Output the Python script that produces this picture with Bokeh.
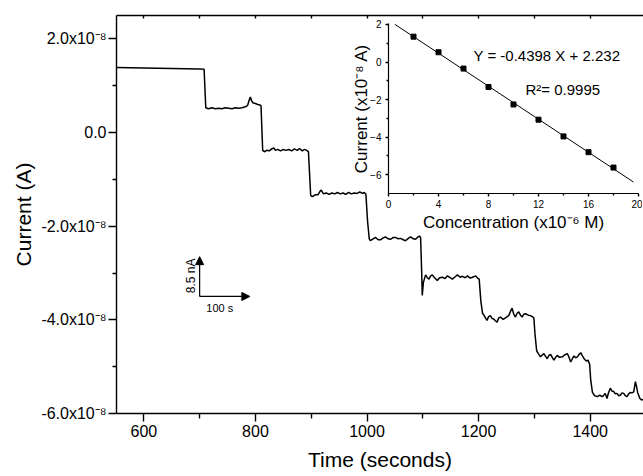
from math import pi
from bokeh.plotting import figure
from bokeh.models import Range1d, FixedTicker, LinearAxis, Label, Arrow, NormalHead
from bokeh.embed import file_html
from bokeh.resources import INLINE

# ---------------- data ----------------
time_s = [551, 600, 650, 700, 708,
          711, 716, 722, 728, 734, 740, 746, 752, 758, 764, 770, 776, 782, 786, 789, 791, 793, 796, 800, 804, 808, 810,
          813, 816, 820, 825, 829, 833, 836, 840, 845, 850, 855, 860, 865, 870, 875, 879, 884, 888, 892, 895,
          899, 902, 907, 912, 916, 918, 922, 927, 932, 937, 942, 947, 952, 957, 962, 967, 972, 977, 982, 987, 992, 995, 998,
          1001, 1004, 1006, 1011, 1015, 1020, 1024, 1029, 1033, 1038, 1042, 1047, 1051, 1056, 1060, 1065, 1069, 1074, 1078,
          1083, 1087, 1091, 1094, 1096,
          1098, 1099, 1101, 1105, 1108, 1111, 1114, 1117, 1121, 1126, 1130, 1135, 1140, 1144, 1149, 1153, 1158, 1162, 1167,
          1171, 1176, 1180, 1185, 1189, 1195, 1198, 1201,
          1204, 1207, 1209, 1212, 1215, 1218, 1221, 1224, 1227, 1230, 1233, 1236, 1239, 1244, 1248, 1251, 1254, 1257, 1260,
          1263, 1266, 1269, 1272, 1275, 1278, 1281, 1284, 1289, 1293, 1296, 1299,
          1301, 1304, 1307, 1311, 1314, 1317, 1320, 1323, 1326, 1329, 1332, 1335, 1338, 1341, 1345, 1350, 1354, 1359, 1362,
          1365, 1368, 1371, 1374, 1377, 1380, 1383, 1386, 1389, 1393, 1396,
          1399, 1401, 1404, 1408, 1413, 1417, 1422, 1427, 1430, 1433, 1436, 1439, 1442, 1445, 1448, 1451, 1454, 1457, 1460,
          1463, 1466, 1469, 1472, 1475, 1478, 1481, 1483, 1485, 1489, 1492, 1495]
# current in units of 1e-8 A
current_e8 = [1.39, 1.38, 1.37, 1.36, 1.35,
              0.53, 0.51, 0.53, 0.51, 0.52, 0.51, 0.53, 0.52, 0.51, 0.53, 0.52, 0.53, 0.55, 0.58, 0.70, 0.76, 0.68, 0.63, 0.62, 0.60, 0.59, 0.57,
              -0.38, -0.41, -0.38, -0.39, -0.35, -0.33, -0.38, -0.36, -0.39, -0.36, -0.38, -0.36, -0.39, -0.35, -0.38, -0.34, -0.39, -0.36, -0.38, -0.41,
              -1.34, -1.37, -1.33, -1.33, -1.25, -1.23, -1.31, -1.29, -1.32, -1.29, -1.31, -1.28, -1.31, -1.29, -1.32, -1.28, -1.31, -1.29, -1.30, -1.27, -1.30, -1.28, -1.32,
              -1.90, -2.27, -2.31, -2.27, -2.24, -2.29, -2.29, -2.25, -2.23, -2.27, -2.28, -2.24, -2.24, -2.27, -2.26, -2.29, -2.31, -2.26, -2.23,
              -2.27, -2.28, -2.23, -2.21, -2.24,
              -3.00, -3.48, -3.20, -3.04, -3.10, -3.13, -3.06, -3.04, -3.10, -3.16, -3.10, -3.09, -3.12, -3.06, -3.10, -3.13, -3.08, -3.04, -3.09,
              -3.07, -3.10, -3.06, -3.11, -3.09, -3.06, -3.11, -3.13,
              -3.60, -3.86, -3.89, -3.95, -4.01, -3.93, -3.91, -3.97, -3.98, -4.02, -4.05, -3.96, -3.94, -3.99, -3.96, -3.93, -3.91, -3.82, -3.75,
              -3.88, -3.94, -3.86, -3.83, -3.90, -3.94, -3.88, -3.87, -3.90, -3.91, -3.93, -3.96,
              -4.30, -4.66, -4.72, -4.79, -4.75, -4.72, -4.78, -4.83, -4.76, -4.74, -4.80, -4.86, -4.80, -4.76, -4.80, -4.79, -4.75, -4.72, -4.80,
              -4.90, -4.83, -4.77, -4.81, -4.79, -4.74, -4.70, -4.77, -4.83, -4.88, -4.86,
              -4.95, -5.30, -5.55, -5.62, -5.64, -5.61, -5.64, -5.57, -5.68, -5.55, -5.46, -5.52, -5.53, -5.58, -5.57, -5.62, -5.61, -5.56, -5.57,
              -5.62, -5.64, -5.58, -5.55, -5.56, -5.54, -5.32, -5.42, -5.55, -5.68, -5.71, -5.70]

x_major = [600, 800, 1000, 1200, 1400]
x_minor = [700, 900, 1100, 1300]
x_top = [600, 700, 800, 900, 1000, 1100, 1200, 1300, 1400]
y_major = [2, 0, -2, -4, -6]
y_minor = [1, -1, -3, -5]
y_labels = ["2.0x10\u207b\u2078", "0.0", "-2.0x10\u207b\u2078", "-4.0x10\u207b\u2078", "-6.0x10\u207b\u2078"]

# inset: calibration
conc = [2, 4, 6, 8, 10, 12, 14, 16, 18]
inset_current = [1.35, 0.52, -0.35, -1.33, -2.26, -3.07, -3.96, -4.80, -5.62]
fit_x = [0.5, 19.6]
fit_y = [2.01, -6.39]
ins_x_major = [0, 4, 8, 12, 16, 20]
ins_x_minor = [2, 6, 10, 14, 18]
ins_y_major = [2, 0, -2, -4, -6]
ins_y_minor = [1, -1, -3, -5]

# scale bar (data coords)
bar_x0, bar_y0 = 700, -3.5
bar_dx, bar_dy = 90, 0.85

FONT = "Liberation Sans"

# ---------------- main figure ----------------
p = figure(width=643, height=476, x_range=Range1d(551, 1495.5), y_range=Range1d(-6.0, 2.5),
           output_backend="svg", toolbar_location=None,
           min_border_left=116, min_border_right=0, min_border_top=15, min_border_bottom=63)
p.outline_line_color = None
p.grid.visible = False
p.line(time_s, current_e8, line_color="black", line_width=1.5)


def style_axis(ax, font_size):
    ax.axis_line_width = 1.4
    ax.major_tick_line_width = 1.4
    ax.minor_tick_line_width = 1.4
    ax.axis_line_color = "black"
    ax.major_tick_line_color = "black"
    ax.minor_tick_line_color = "black"
    ax.major_label_text_font = FONT
    ax.major_label_text_font_size = font_size
    ax.major_label_text_color = "black"
    ax.axis_label_text_font = FONT
    ax.axis_label_text_font_style = "normal"
    ax.axis_label_text_color = "black"


xa = p.xaxis[0]
xa.ticker = FixedTicker(ticks=x_major, minor_ticks=x_minor)
style_axis(xa, "16px")
xa.major_tick_out = 8
xa.major_tick_in = 0
xa.minor_tick_out = 5
xa.minor_tick_in = 0
xa.major_label_standoff = 3
xa.axis_label = "Time (seconds)"
xa.axis_label_text_font_size = "21px"
xa.axis_label_standoff = 8

ya = p.yaxis[0]
ya.ticker = FixedTicker(ticks=y_major, minor_ticks=y_minor)
style_axis(ya, "16px")
ya.major_tick_out = 8
ya.major_tick_in = 0
ya.minor_tick_out = 4
ya.minor_tick_in = 0
ya.major_label_standoff = 2
ya.major_label_overrides = {v: s for v, s in zip(y_major, y_labels)}
ya.axis_label = "Current (A)"
ya.axis_label_text_font_size = "21px"
ya.axis_label_standoff = 3

top = LinearAxis(ticker=FixedTicker(ticks=x_top, minor_ticks=[]))
style_axis(top, "1px")
top.major_label_text_color = None
top.major_tick_in = 3
top.major_tick_out = 0
top.minor_tick_in = 0
top.minor_tick_out = 0
top.major_label_standoff = 0
p.add_layout(top, "above")

head = dict(size=8, fill_color="black", line_color="black", line_width=1)
p.add_layout(Arrow(end=NormalHead(**head), x_start=bar_x0, y_start=bar_y0, x_end=bar_x0, y_end=bar_y0 + bar_dy,
                   line_width=1.2, line_color="black"))
p.add_layout(Arrow(end=NormalHead(**head), x_start=bar_x0, y_start=bar_y0, x_end=bar_x0 + bar_dx, y_end=bar_y0,
                   line_width=1.2, line_color="black"))
p.add_layout(Label(x=736, y=-3.75, text="100 s", text_align="center", text_baseline="middle",
                   text_font=FONT, text_font_size="11px", text_color="black"))
p.add_layout(Label(x=684, y=-3.06, text="8.5 nA", angle=pi / 2, text_align="center", text_baseline="middle",
                   text_font=FONT, text_font_size="12px", text_color="black"))

# ---------------- inset ----------------
ins = figure(width=297, height=222, x_range=Range1d(0, 20), y_range=Range1d(-7, 2.05),
             output_backend="svg", toolbar_location=None,
             min_border_left=43, min_border_right=4, min_border_top=11, min_border_bottom=36,
             background_fill_alpha=0, border_fill_alpha=0,
             styles={"position": "absolute", "left": "345px", "top": "12px"})
ins.outline_line_color = None
ins.grid.visible = False
ins.line(fit_x, fit_y, line_color="black", line_width=1)
ins.scatter(conc, inset_current, marker="square", size=5, fill_color="black", line_color="black")

ixa = ins.xaxis[0]
ixa.ticker = FixedTicker(ticks=ins_x_major, minor_ticks=ins_x_minor)
style_axis(ixa, "10px")
ixa.axis_line_width = 1.2
ixa.major_tick_out = 3
ixa.major_tick_in = 0
ixa.minor_tick_out = 2
ixa.minor_tick_in = 0
ixa.major_label_standoff = 3
ixa.axis_label = "Concentration (x10\u207b\u2076 M)"
ixa.axis_label_text_font_size = "17px"
ixa.axis_label_standoff = 2

iya = ins.yaxis[0]
iya.ticker = FixedTicker(ticks=ins_y_major, minor_ticks=ins_y_minor)
style_axis(iya, "10px")
iya.axis_line_width = 1.2
iya.major_tick_out = 3
iya.major_tick_in = 0
iya.minor_tick_out = 2
iya.minor_tick_in = 0
iya.major_label_standoff = 4
iya.axis_label = "Current (x10\u207b\u2078 A)"
iya.axis_label_text_font_size = "17px"
iya.axis_label_standoff = -4

ins.add_layout(Label(x=6.8, y=0.35, text="Y = -0.4398 X + 2.232", text_align="left", text_baseline="middle",
                     text_font=FONT, text_font_size="15px", text_color="black"))
ins.add_layout(Label(x=10.96, y=-1.44, text="R\u00b2= 0.9995", text_align="left", text_baseline="middle",
                     text_font=FONT, text_font_size="15px", text_color="black"))

open("out.html", "w").write(file_html([p, ins], INLINE))
